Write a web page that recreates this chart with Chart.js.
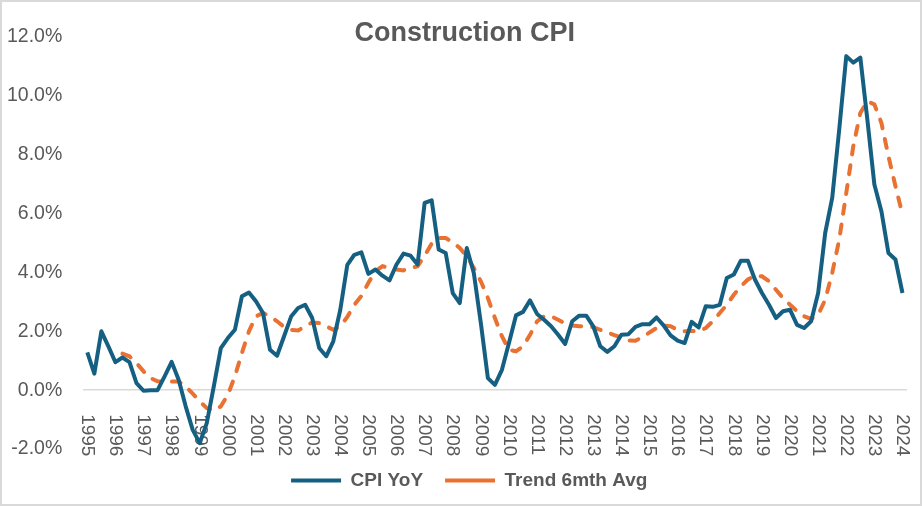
<!DOCTYPE html>
<html>
<head>
<meta charset="utf-8">
<title>Construction CPI</title>
<script src="https://cdn.jsdelivr.net/npm/chart.js@4.4.1/dist/chart.umd.min.js"></script>
<style>
    html, body { margin: 0; padding: 0; background: #ffffff; }
    #wrap { width: 922px; height: 506px; position: relative; }
</style>
</head>
<body>
<div id="wrap"><canvas id="cpiChart"></canvas></div>
<script>
// Year tick labels (one per Q1), quarterly series from 1995 Q1 to 2024 Q1
const yearLabels = ['1995', '1996', '1997', '1998', '1999', '2000', '2001', '2002', '2003', '2004',
    '2005', '2006', '2007', '2008', '2009', '2010', '2011', '2012', '2013', '2014',
    '2015', '2016', '2017', '2018', '2019', '2020', '2021', '2022', '2023', '2024'];

// CPI YoY, % (quarterly)
const cpiYoY = [
    1.28, 0.56, 2.0, 1.49, 0.95, 1.11, 0.95, 0.24, -0.02, 0.0,
    0.0, 0.47, 0.96, 0.35, -0.55, -1.35, -1.8, -1.12, 0.13, 1.43,
    1.77, 2.05, 3.19, 3.32, 3.02, 2.62, 1.37, 1.17, 1.83, 2.5,
    2.79, 2.9, 2.45, 1.43, 1.15, 1.66, 2.73, 4.26, 4.6, 4.68,
    3.95, 4.1, 3.89, 3.73, 4.27, 4.64, 4.57, 4.27, 6.36, 6.45,
    4.78, 4.66, 3.3, 2.96, 4.83, 3.98, 2.28, 0.41, 0.18, 0.69,
    1.6, 2.54, 2.66, 3.05, 2.59, 2.39, 2.17, 1.88, 1.57, 2.34,
    2.53, 2.53, 2.17, 1.49, 1.3, 1.49, 1.88, 1.9, 2.15, 2.24,
    2.24, 2.47, 2.2, 1.86, 1.68, 1.6, 2.32, 2.13, 2.85, 2.83,
    2.9, 3.81, 3.93, 4.4, 4.4, 3.76, 3.3, 2.9, 2.45, 2.68,
    2.73, 2.22, 2.11, 2.34, 3.3, 5.34, 6.53, 8.86, 11.35, 11.13,
    11.3, 9.2, 6.99, 6.08, 4.66, 4.44, 3.3
];

// Trend 6mth Avg, % (starts mid 1996)
const trendAvg = [
    null, null, null, null, null, 1.24, 1.15, 0.92, 0.64, 0.41,
    0.3, 0.28, 0.29, 0.29, 0.13, -0.12, -0.38, -0.61, -0.7, -0.55,
    -0.16, 0.47, 1.26, 2.0, 2.51, 2.62, 2.51, 2.34, 2.15, 2.05,
    2.03, 2.17, 2.3, 2.28, 2.17, 2.05, 2.17, 2.49, 2.9, 3.2,
    3.65, 4.04, 4.21, 4.15, 4.1, 4.07, 4.15, 4.21, 4.57, 4.98,
    5.17, 5.17, 5.02, 4.83, 4.55, 4.15, 3.7, 3.13, 2.45, 1.83,
    1.37, 1.32, 1.49, 1.88, 2.34, 2.51, 2.51, 2.39, 2.26, 2.2,
    2.17, 2.17, 2.14, 2.05, 1.96, 1.87, 1.79, 1.69, 1.68, 1.8,
    1.96, 2.11, 2.2, 2.17, 2.05, 2.0, 2.01, 2.0, 2.11, 2.34,
    2.62, 2.9, 3.24, 3.53, 3.76, 3.89, 3.87, 3.7, 3.41, 3.13,
    2.9, 2.68, 2.51, 2.42, 2.56, 3.07, 3.98, 5.12, 6.7, 8.29,
    9.42, 9.82, 9.71, 9.08, 7.95, 6.93, 5.97
];

// one category per quarter, labelled only on Q1
const quarters = [];
yearLabels.forEach((yr, i) => {
    quarters.push(yr);
    if (i < yearLabels.length - 1) {
        quarters.push('', '', '');
    }
});

const TEXT_COLOR = '#595959';
const FONT = '"Liberation Sans", Arial, sans-serif';

Chart.defaults.font.family = FONT;
Chart.defaults.color = TEXT_COLOR;

// light frame round the chart area, like the spreadsheet chart box
const frame = {
    id: 'frame',
    beforeDraw(chart) {
        const ctx = chart.ctx;
        ctx.save();
        ctx.fillStyle = '#ffffff';
        ctx.fillRect(0, 0, chart.width, chart.height);
        ctx.strokeStyle = '#d9d9d9';
        ctx.lineWidth = 2;
        ctx.strokeRect(1, 1, chart.width - 2, chart.height - 2);
        ctx.restore();
    }
};

// title and legend sit a little right of the canvas centre in the original
const nudgeBoxes = {
    id: 'nudgeBoxes',
    afterLayout(chart) {
        if (chart.titleBlock) {
            chart.titleBlock.left += 19;
            chart.titleBlock.right += 19;
        }
        if (chart.legend) {
            chart.legend.left += 23.5;
            chart.legend.right += 23.5;
        }
    }
};

// year labels sit under the zero line, turned to read top to bottom
const yearAxisLabels = {
    id: 'yearAxisLabels',
    beforeDatasetsDraw(chart) {
        const {ctx, scales: {x, y}} = chart;
        const top = y.getPixelForValue(0) + 24;
        ctx.save();
        ctx.font = '19px ' + FONT;
        ctx.fillStyle = TEXT_COLOR;
        ctx.textAlign = 'left';
        ctx.textBaseline = 'middle';
        x.getLabels().forEach((lab, i) => {
            if (!lab) return;
            ctx.save();
            ctx.translate(x.getPixelForValue(i), top);
            ctx.rotate(Math.PI / 2);
            ctx.fillText(lab, 0, 0);
            ctx.restore();
        });
        ctx.restore();
    }
};

const ctx = document.getElementById('cpiChart').getContext('2d');
const chart = new Chart(ctx, {
    type: 'line',
    data: {
        labels: quarters,
        datasets: [{
            label: 'CPI YoY',
            data: cpiYoY,
            borderColor: '#156082',
            backgroundColor: '#156082',
            borderWidth: 4,
            pointRadius: 0,
            tension: 0,
            borderJoinStyle: 'round'
        }, {
            label: 'Trend 6mth Avg',
            data: trendAvg,
            borderColor: '#E97132',
            backgroundColor: '#E97132',
            borderWidth: 4,
            borderDash: [9, 11],
            borderCapStyle: 'round',
            pointRadius: 0,
            tension: 0
        }]
    },
    options: {
        responsive: true,
        maintainAspectRatio: false,
        animation: false,
        layout: {
            padding: { left: -14.5, right: 16, top: 0, bottom: 6 }
        },
        scales: {
            x: {
                type: 'category',
                offset: true,
                position: { y: 0 },
                grid: { display: false },
                border: { display: true, color: '#d9d9d9', width: 1.5 },
                ticks: { display: false }
            },
            y: {
                min: -2,
                max: 12,
                grid: { display: false, drawTicks: false },
                border: { display: false },
                ticks: {
                    stepSize: 2,
                    padding: 21.5,
                    color: TEXT_COLOR,
                    font: { size: 19.5 },
                    callback: v => v.toFixed(1) + '%'
                }
            }
        },
        plugins: {
            title: {
                display: true,
                text: 'Construction CPI',
                color: TEXT_COLOR,
                font: { size: 27, weight: 'bold' },
                padding: { top: 17.4, bottom: -12.8 }
            },
            legend: {
                position: 'bottom',
                labels: {
                    usePointStyle: true,
                    pointStyle: 'line',
                    pointStyleWidth: 50,
                    padding: 22,
                    color: TEXT_COLOR,
                    font: { size: 19, weight: 'bold' }
                }
            },
            tooltip: { enabled: false }
        }
    },
    plugins: [frame, nudgeBoxes, yearAxisLabels]
});
</script>
</body>
</html>
